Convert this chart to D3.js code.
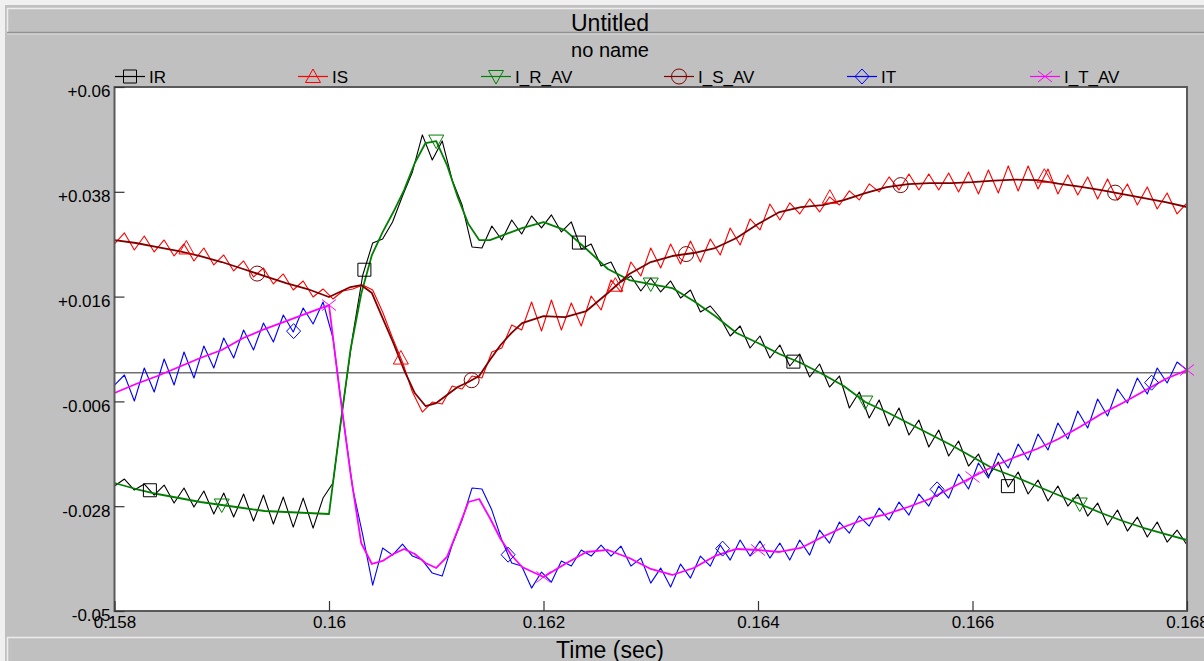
<!DOCTYPE html>
<html><head><meta charset="utf-8">
<script src="https://cdn.jsdelivr.net/npm/d3@7"></script>
<style>
html,body{margin:0;padding:0;background:#c0c0c0;overflow:hidden}
svg{display:block}
text{font-family:"Liberation Sans",Arial,sans-serif;fill:#000}
</style>
</head><body>
<svg id="chart" width="1204" height="661"></svg>
<script>
// ---------------- DATA ----------------
const chartTitle = "Untitled";
const chartSubtitle = "no name";
const xAxisTitle = "Time (sec)";
const xTicks = [0.158, 0.16, 0.162, 0.164, 0.166, 0.168];
const xTickLabels = ["0.158", "0.16", "0.162", "0.164", "0.166", "0.168"];
const yTicks = [0.06, 0.038, 0.016, -0.006, -0.028, -0.05];
const yTickLabels = ["+0.06", "+0.038", "+0.016", "-0.006", "-0.028", "-0.05"];

const seriesNames = ["IR", "IS", "I_R_AV", "I_S_AV", "IT", "I_T_AV"];
const seriesColors = ["#000000", "#ff0000", "#008000", "#800000", "#0000ff", "#ff00ff"];
const seriesMarkers = ["square", "triUp", "triDown", "circle", "diamond", "cross"];

// sample times of the raw (noisy) signals: 109 evenly spaced samples over 0.158..0.168 s
const tRaw = d3.range(109).map(k => 0.158 + k * 0.01 / 108);
// sample times of the averaged (smooth) signals
const tAvg = [0.158,0.1582,0.1584,0.1586,0.1588,0.159,0.1592,0.1594,0.1596,0.1598,0.16,
  0.1601,0.1602,0.1603,0.1604,0.1605,0.1606,0.1607,0.1608,0.1609,0.161,0.1611,0.1612,0.1613,0.1614,0.1615,0.1616,0.1617,0.1618,
  0.162,0.1622,0.1624,0.1626,0.1628,0.163,0.1632,0.1634,0.1636,0.1638,0.164,0.1642,0.1644,0.1646,0.1648,0.165,
  0.1652,0.1654,0.1656,0.1658,0.166,0.1662,0.1664,0.1666,0.1668,0.167,0.1672,0.1674,0.1676,0.1678,0.168];

const IR = [-0.02377,-0.02230,-0.02461,-0.02335,-0.02566,-0.02356,-0.02734,-0.02419,-0.02818,-0.02482,
  -0.02965,-0.02524,-0.03028,-0.02545,-0.03112,-0.02566,-0.03175,-0.02608,-0.03238,-0.02629,
  -0.03259,-0.02629,-0.02314,-0.00697,0.00794,0.02054,0.02726,0.02810,0.03167,0.03713,
  0.04217,0.04994,0.04469,0.04868,0.04049,0.03524,0.02642,0.02621,0.03083,0.02789,
  0.03209,0.02915,0.03293,0.03041,0.03314,0.02957,0.03167,0.02600,0.02705,0.02243,
  0.02327,0.01907,0.02033,0.01718,0.01991,0.01697,0.01928,0.01571,0.01739,0.01277,
  0.01403,0.01151,0.00773,0.00983,0.00521,0.00773,0.00311,0.00584,0.00143,0.00395,
  -0.00088,0.00185,-0.00298,-0.00067,-0.00739,-0.00403,-0.00949,-0.00571,-0.01117,-0.00739,
  -0.01306,-0.00991,-0.01558,-0.01201,-0.01747,-0.01432,-0.01957,-0.01705,-0.02167,-0.01873,
  -0.02398,-0.02083,-0.02545,-0.02251,-0.02692,-0.02377,-0.02797,-0.02545,-0.03007,-0.02734,
  -0.03196,-0.02881,-0.03322,-0.03028,-0.03448,-0.03133,-0.03553,-0.03301,-0.03616];

const IS = [0.02705,0.02936,0.02579,0.02873,0.02537,0.02789,0.02453,0.02705,0.02348,0.02621,
  0.02264,0.02474,0.02138,0.02348,0.02012,0.02201,0.01865,0.02075,0.01739,0.01928,
  0.01592,0.01760,0.01550,0.01718,0.01760,0.01844,0.01739,0.01277,0.00731,0.00227,
  -0.00403,-0.00823,-0.00613,-0.00655,-0.00277,-0.00340,-0.00067,-0.00109,0.00437,0.00521,
  0.01004,0.00899,0.01487,0.00878,0.01529,0.00899,0.01466,0.00983,0.01613,0.01319,
  0.01949,0.01697,0.02327,0.02033,0.02621,0.02201,0.02705,0.02285,0.02768,0.02327,
  0.02810,0.02474,0.03041,0.02684,0.03230,0.02999,0.03545,0.03209,0.03566,0.03335,
  0.03650,0.03377,0.03692,0.03524,0.03818,0.03629,0.03965,0.03797,0.04112,0.03839,
  0.04175,0.03839,0.04175,0.03839,0.04196,0.03797,0.04217,0.03755,0.04259,0.03776,
  0.04343,0.03818,0.04343,0.03860,0.04280,0.03755,0.04154,0.03734,0.04112,0.03650,
  0.04070,0.03629,0.03965,0.03524,0.03902,0.03440,0.03776,0.03335,0.03566];

const IT = [-0.00256,-0.00046,-0.00592,0.00101,-0.00403,0.00290,-0.00256,0.00437,-0.00109,0.00563,
  0.00101,0.00731,0.00311,0.00899,0.00479,0.01046,0.00647,0.01214,0.00857,0.01361,
  0.01025,0.01487,0.00731,-0.00907,-0.02440,-0.03406,-0.04456,-0.03679,-0.03826,-0.03595,
  -0.03847,-0.03931,-0.04204,-0.04267,-0.03616,-0.03091,-0.02419,-0.02440,-0.02881,-0.03511,
  -0.03994,-0.04057,-0.04519,-0.04183,-0.04393,-0.03952,-0.04057,-0.03721,-0.03847,-0.03616,
  -0.03847,-0.03637,-0.04057,-0.03889,-0.04414,-0.04099,-0.04498,-0.04015,-0.04309,-0.03847,
  -0.04057,-0.03616,-0.03931,-0.03511,-0.03847,-0.03532,-0.03889,-0.03574,-0.03931,-0.03511,
  -0.03826,-0.03301,-0.03574,-0.03133,-0.03364,-0.03007,-0.03217,-0.02839,-0.03091,-0.02713,
  -0.02986,-0.02545,-0.02797,-0.02377,-0.02629,-0.02125,-0.02440,-0.01894,-0.02209,-0.01684,
  -0.01999,-0.01495,-0.01831,-0.01285,-0.01621,-0.01054,-0.01390,-0.00802,-0.01159,-0.00550,
  -0.00907,-0.00340,-0.00634,-0.00109,-0.00445,0.00101,-0.00214,0.00227,0.00059];

const I_R_AV = [-0.02313,-0.02439,-0.02544,-0.02628,-0.02712,-0.02775,-0.02838,-0.02901,-0.02922,-0.02943,-0.02964,
  -0.01201,0.00479,0.01654,0.02473,0.02955,0.03375,0.03837,0.04404,0.04824,0.04865,0.04362,0.03690,0.03123,0.02787,0.02787,0.02871,0.02955,0.03039,
  0.03165,0.02997,0.02599,0.02179,0.01948,0.01864,0.01780,0.01507,0.01192,0.00835,0.00626,0.00395,0.00206,-0.00025,-0.00277,-0.00613,
  -0.00823,-0.01054,-0.01285,-0.01515,-0.01767,-0.02019,-0.02187,-0.02376,-0.02565,-0.02754,-0.02943,-0.03111,-0.03258,-0.03384,-0.03510];

const I_S_AV = [0.02787,0.02725,0.02641,0.02557,0.02452,0.02326,0.02179,0.02032,0.01885,0.01759,0.01591,
  0.01696,0.01801,0.01843,0.01675,0.01150,0.00626,0.00059,-0.00424,-0.00697,-0.00634,-0.00466,-0.00298,-0.00193,-0.00067,0.00269,0.00584,0.00835,0.01045,
  0.01192,0.01171,0.01297,0.01675,0.02074,0.02326,0.02452,0.02515,0.02620,0.02829,0.03123,0.03375,0.03480,0.03522,0.03627,0.03774,
  0.03900,0.03963,0.03984,0.03984,0.04005,0.04036,0.04057,0.04047,0.03973,0.03910,0.03837,0.03753,0.03669,0.03585,0.03480];

const I_T_AV = [-0.00424,-0.00235,-0.00067,0.00122,0.00311,0.00479,0.00730,0.00919,0.01087,0.01255,0.01423,
  -0.00403,-0.02103,-0.03572,-0.04013,-0.03950,-0.03803,-0.03698,-0.03803,-0.03992,-0.04097,-0.03866,-0.03300,-0.02712,-0.02649,-0.03048,-0.03489,-0.03824,-0.04076,
  -0.04286,-0.04013,-0.03761,-0.03719,-0.03887,-0.04118,-0.04244,-0.04097,-0.03845,-0.03698,-0.03719,-0.03761,-0.03677,-0.03447,-0.03237,-0.03069,
  -0.02964,-0.02817,-0.02649,-0.02418,-0.02187,-0.01956,-0.01767,-0.01599,-0.01390,-0.01138,-0.00865,-0.00634,-0.00382,-0.00130,0.00059];

// times at which each series shows its marker symbol
const markerTimesIR = [0.15833, 0.16033, 0.16233, 0.16433, 0.16633];
const markerTimesIS = [0.15867, 0.16067, 0.16267, 0.16467, 0.16667];
const markerTimesIRAV = [0.159, 0.161, 0.163, 0.165, 0.167];
const markerTimesISAV = [0.15933, 0.16133, 0.16333, 0.16533, 0.16733];
const markerTimesIT = [0.15967, 0.16167, 0.16367, 0.16567, 0.16767];
const markerTimesITAV = [0.16, 0.162, 0.164, 0.166, 0.168];

const series = [
  {name: seriesNames[0], t: tRaw, v: IR, m: markerTimesIR, w: 1.1},
  {name: seriesNames[1], t: tRaw, v: IS, m: markerTimesIS, w: 1.1},
  {name: seriesNames[2], t: tAvg, v: I_R_AV, m: markerTimesIRAV, w: 1.8},
  {name: seriesNames[3], t: tAvg, v: I_S_AV, m: markerTimesISAV, w: 1.8},
  {name: seriesNames[4], t: tRaw, v: IT, m: markerTimesIT, w: 1.1},
  {name: seriesNames[5], t: tAvg, v: I_T_AV, m: markerTimesITAV, w: 1.8}
];
series.forEach((s, i) => { s.color = seriesColors[i]; s.marker = seriesMarkers[i]; });

// ---------------- LAYOUT ----------------
const W = 1204, H = 661;
const plot = {x0: 114.5, x1: 1187, y0: 87, y1: 611};
const x = d3.scaleLinear().domain([0.158, 0.168]).range([plot.x0, plot.x1]);
const y = d3.scaleLinear().domain([-0.05, 0.06]).range([plot.y1, plot.y0]);

const svg = d3.select("#chart");
svg.append("rect").attr("width", W).attr("height", H).attr("fill", "#c0c0c0");
// light outer edges
svg.append("rect").attr("x", 0).attr("y", 0).attr("width", W).attr("height", 5).attr("fill", "#f0f0f0");
svg.append("rect").attr("x", 0).attr("y", 0).attr("width", 5).attr("height", H).attr("fill", "#f0f0f0");
// title bar panel
svg.append("line").attr("x1", 7).attr("x2", W).attr("y1", 8.5).attr("y2", 8.5).attr("stroke", "#ececec").attr("stroke-width", 1.5);
svg.append("line").attr("x1", 7.5).attr("x2", 7.5).attr("y1", 8).attr("y2", 33).attr("stroke", "#ececec").attr("stroke-width", 1.5);
svg.append("line").attr("x1", 7).attr("x2", W).attr("y1", 32.5).attr("y2", 32.5).attr("stroke", "#909090").attr("stroke-width", 1.5);
svg.append("line").attr("x1", 7).attr("x2", W).attr("y1", 34).attr("y2", 34).attr("stroke", "#dcdcdc").attr("stroke-width", 1);
// bottom axis-title panel
svg.append("line").attr("x1", 7).attr("x2", W).attr("y1", 637.5).attr("y2", 637.5).attr("stroke", "#ececec").attr("stroke-width", 1.5);
svg.append("line").attr("x1", 7.5).attr("x2", 7.5).attr("y1", 637).attr("y2", H).attr("stroke", "#ececec").attr("stroke-width", 1.5);

// titles
svg.append("text").attr("x", 610).attr("y", 31).attr("text-anchor", "middle").attr("font-size", 23).text(chartTitle);
svg.append("text").attr("x", 610).attr("y", 57).attr("text-anchor", "middle").attr("font-size", 20).text(chartSubtitle);
svg.append("text").attr("x", 610).attr("y", 658).attr("text-anchor", "middle").attr("font-size", 23).text(xAxisTitle);

// plot background
svg.append("rect").attr("x", plot.x0).attr("y", plot.y0).attr("width", plot.x1 - plot.x0).attr("height", plot.y1 - plot.y0).attr("fill", "#ffffff");
svg.append("clipPath").attr("id", "clip").append("rect")
  .attr("x", plot.x0).attr("y", plot.y0).attr("width", plot.x1 - plot.x0).attr("height", plot.y1 - plot.y0);

// zero line
svg.append("line").attr("x1", plot.x0).attr("x2", plot.x1).attr("y1", y(0)).attr("y2", y(0))
  .attr("stroke", "#707070").attr("stroke-width", 1.5);

// series lines
const g = svg.append("g").attr("clip-path", "url(#clip)");
series.forEach(s => {
  const pts = s.t.map((t, i) => [t, s.v[i]]);
  const line = d3.line().x(d => x(d[0])).y(d => y(d[1])).curve(d3.curveLinear);
  g.append("path").datum(pts).attr("d", line).attr("fill", "none")
    .attr("stroke", s.color).attr("stroke-width", s.w).attr("stroke-linejoin", "round");
});

// marker symbols
function markerPath(type) {
  switch (type) {
    case "square": return "M-6.5,-6.5h13v13h-13Z";
    case "triUp": return "M0,-7.5L7.5,6L-7.5,6Z";
    case "triDown": return "M-7.5,-6L7.5,-6L0,7.5Z";
    case "diamond": return "M0,-7.5L7,0L0,7.5L-7,0Z";
    case "cross": return "M-7,-5.5L7,5.5M-7,5.5L7,-5.5";
    default: return null;
  }
}
function drawMarker(sel, type, cx, cy, color) {
  if (type === "circle") {
    sel.append("circle").attr("cx", cx).attr("cy", cy).attr("r", 7.5)
      .attr("fill", "none").attr("stroke", color).attr("stroke-width", 1);
  } else {
    sel.append("path").attr("d", markerPath(type)).attr("transform", `translate(${cx},${cy})`)
      .attr("fill", "none").attr("stroke", color).attr("stroke-width", 1);
  }
}
function valueAt(ts, vs, t) {
  let i = d3.bisectLeft(ts, t);
  i = Math.min(Math.max(i, 1), ts.length - 1);
  const f = (t - ts[i - 1]) / (ts[i] - ts[i - 1]);
  return vs[i - 1] + (vs[i] - vs[i - 1]) * f;
}
const mg = svg.append("g");
series.forEach(s => {
  s.m.forEach(t => drawMarker(mg, s.marker, x(t), y(valueAt(s.t, s.v, t)), s.color));
});

// plot frame
svg.append("rect").attr("x", plot.x0).attr("y", plot.y0).attr("width", plot.x1 - plot.x0).attr("height", plot.y1 - plot.y0)
  .attr("fill", "none").attr("stroke", "#5a5a5a").attr("stroke-width", 2);

// axes
const yAxis = d3.axisLeft(y).tickValues(yTicks).tickFormat((d, i) => yTickLabels[i])
  .tickSizeInner(-10).tickSizeOuter(0).tickPadding(4);
const gy = svg.append("g").attr("transform", `translate(${plot.x0},0)`).call(yAxis);
gy.select(".domain").remove();
gy.selectAll(".tick line").attr("stroke", "#333").attr("stroke-width", 1.2);
gy.selectAll(".tick text").attr("font-size", 17).attr("dy", "0.58em")
  .attr("font-family", "'Liberation Sans', Arial, sans-serif").attr("fill", "#000");

const xAxis = d3.axisBottom(x).tickValues(xTicks).tickFormat((d, i) => xTickLabels[i])
  .tickSizeInner(-10).tickSizeOuter(0).tickPadding(5);
const gx = svg.append("g").attr("transform", `translate(0,${plot.y1})`).call(xAxis);
gx.select(".domain").remove();
gx.selectAll(".tick line").attr("stroke", "#333").attr("stroke-width", 1.2);
gx.selectAll(".tick text").attr("font-size", 17)
  .attr("font-family", "'Liberation Sans', Arial, sans-serif").attr("fill", "#000");

// legend
const lg = svg.append("g");
series.forEach((s, i) => {
  const lx = 115 + 183 * i, ly = 76.5;
  lg.append("line").attr("x1", lx).attr("x2", lx + 30).attr("y1", ly).attr("y2", ly)
    .attr("stroke", s.color).attr("stroke-width", 1.2);
  drawMarker(lg, s.marker, lx + 15, ly, s.color);
  lg.append("text").attr("x", lx + 34).attr("y", ly + 6.5).attr("font-size", 17).text(s.name);
});
</script>
</body></html>
